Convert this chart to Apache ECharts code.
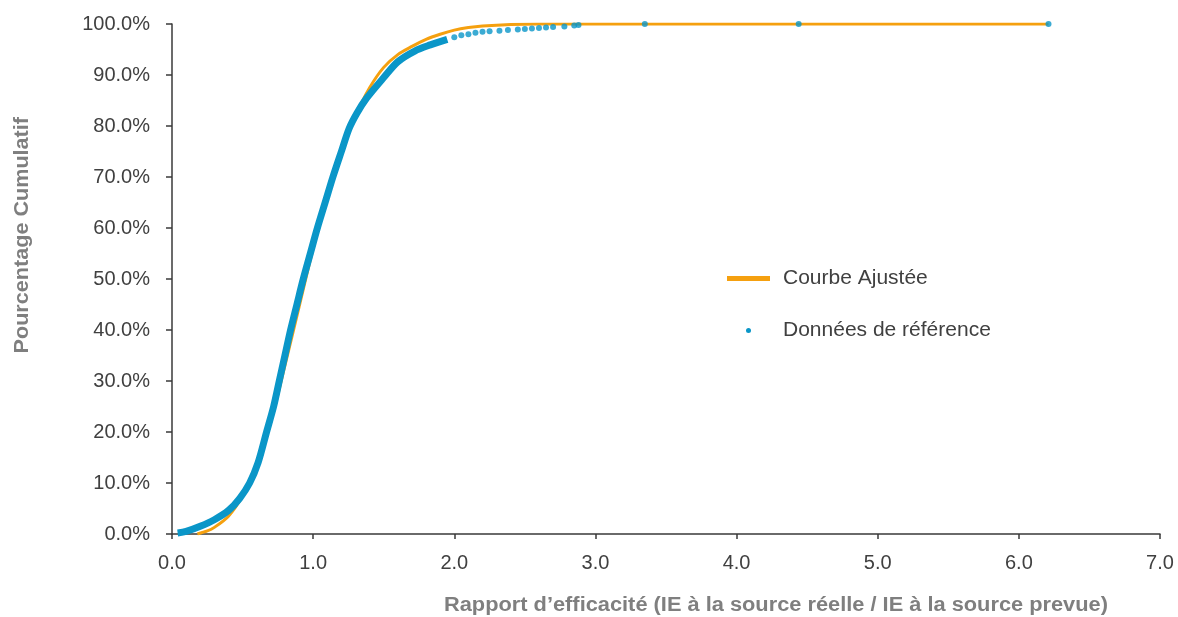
<!DOCTYPE html>
<html>
<head>
<meta charset="utf-8">
<script src="https://cdn.jsdelivr.net/npm/echarts@6/dist/echarts.min.js"></script>
<style>
  html, body { margin: 0; padding: 0; background: #fff; }
  #container { width: 1178px; height: 617px; }
</style>
</head>
<body>
<div id="container"></div>
<script>
// rapport d'efficacité -> pourcentage cumulé
var refX = [0.04, 0.10, 0.20, 0.30, 0.40, 0.48, 0.55, 0.61, 0.67, 0.72, 0.76, 0.80, 0.84, 0.885, 0.93, 0.98, 1.03, 1.085, 1.14, 1.20, 1.255, 1.31, 1.38, 1.50, 1.60, 1.72, 1.83, 1.95];
var refY = [0.2, 0.5, 1.5, 2.8, 4.6, 7.0, 10.0, 14.0, 20.0, 25.0, 30.0, 35.0, 40.0, 45.0, 50.0, 55.0, 60.0, 65.0, 70.0, 75.0, 79.5, 82.5, 85.5, 89.5, 92.6, 94.7, 95.9, 97.0];
// points isolés de la queue
var tailX = [2.00, 2.05, 2.10, 2.15, 2.20, 2.25, 2.32, 2.38, 2.45, 2.50, 2.55, 2.60, 2.65, 2.70, 2.78, 2.85, 2.88, 3.35, 4.44, 6.21];
var tailY = [97.4, 97.8, 98.0, 98.3, 98.5, 98.6, 98.7, 98.8, 98.9, 99.0, 99.1, 99.2, 99.3, 99.4, 99.5, 99.7, 99.8, 100, 100, 100];
// courbe ajustée
var fitX = [0.18, 0.25, 0.30, 0.40, 0.50, 0.60, 0.70, 0.80, 0.90, 1.00, 1.10, 1.20, 1.30, 1.40, 1.50, 1.60, 1.70, 1.80, 1.90, 2.00, 2.10, 2.20, 2.40, 2.60, 6.21];
var fitY = [0.0, 0.6, 1.3, 3.5, 7.5, 13.5, 22.0, 33.0, 44.5, 56.0, 66.5, 75.0, 82.0, 87.5, 91.5, 94.0, 95.6, 97.0, 98.0, 98.8, 99.3, 99.6, 99.9, 100, 100];
var yTicks = [0, 10, 20, 30, 40, 50, 60, 70, 80, 90, 100];
var xTicks = [0, 1, 2, 3, 4, 5, 6, 7];

function pairs(xs, ys) {
  var out = [];
  for (var i = 0; i < xs.length; i++) out.push([xs[i], ys[i]]);
  return out;
}

var blue = '#0a96c8';
var orange = '#f5a00f';
var txt = '#404040';
var titleFont = 'bold 20px "Liberation Sans", Arial, sans-serif';

var dom = document.getElementById('container');
var myChart = echarts.init(dom);
var option = {
  animation: false,
  grid: { left: 172, right: 18, top: 24, bottom: 83 },
  legend: {
    orient: 'vertical',
    left: 722,
    top: 263,
    itemWidth: 43,
    itemHeight: 5,
    itemGap: 31,
    textStyle: { fontFamily: 'Liberation Sans', fontSize: 21, color: txt, padding: [0, 0, 0, 8] },
    data: [
      { name: 'Courbe Ajustée', icon: 'rect', itemStyle: { color: orange } },
      { name: 'Données de référence', icon: 'circle', itemStyle: { color: blue } }
    ]
  },
  xAxis: {
    type: 'value',
    min: xTicks[0], max: xTicks[xTicks.length - 1], interval: 1,
    axisLine: { lineStyle: { color: '#3a3a3a', width: 1.5 } },
    axisTick: { show: true, length: 5, lineStyle: { color: '#3a3a3a', width: 1.5 } },
    axisLabel: { fontFamily: 'Liberation Sans', fontSize: 20, color: txt, margin: 19,
      formatter: function (v) { return v.toFixed(1); } },
    splitLine: { show: false }
  },
  yAxis: {
    type: 'value',
    min: yTicks[0], max: yTicks[yTicks.length - 1], interval: 10,
    axisLine: { show: true, lineStyle: { color: '#3a3a3a', width: 1.5 } },
    axisTick: { show: true, length: 6, lineStyle: { color: '#3a3a3a', width: 1.5 } },
    axisLabel: { fontFamily: 'Liberation Sans', fontSize: 20, color: txt, margin: 22,
      formatter: function (v) { return v.toFixed(1) + '%'; } },
    splitLine: { show: false }
  },
  graphic: [
    { type: 'text', left: 444, top: 595, scaleX: 1.09,
      style: { text: 'Rapport d’efficacité (IE à la source réelle / IE à la source prevue)',
        font: titleFont, fill: '#7f7f7f' } },
    { type: 'text', left: 12, top: 117, rotation: Math.PI / 2, scaleX: 1.08,
      style: { text: 'Pourcentage Cumulatif', font: titleFont, fill: '#7f7f7f' } }
  ],
  series: [
    {
      name: 'Courbe Ajustée', type: 'line', smooth: 0.3, showSymbol: false,
      data: pairs(fitX, fitY), z: 2,
      lineStyle: { color: orange, width: 3 }, itemStyle: { color: orange }
    },
    {
      name: 'Données de référence', type: 'line', smooth: 0.3, showSymbol: false,
      data: pairs(refX, refY), z: 3,
      lineStyle: { color: blue, width: 7 }, itemStyle: { color: blue }
    },
    {
      name: 'Données de référence', type: 'scatter', symbolSize: 6,
      data: pairs(tailX, tailY), z: 4,
      itemStyle: { color: blue }
    }
  ]
};
myChart.setOption(option);
</script>
</body>
</html>
